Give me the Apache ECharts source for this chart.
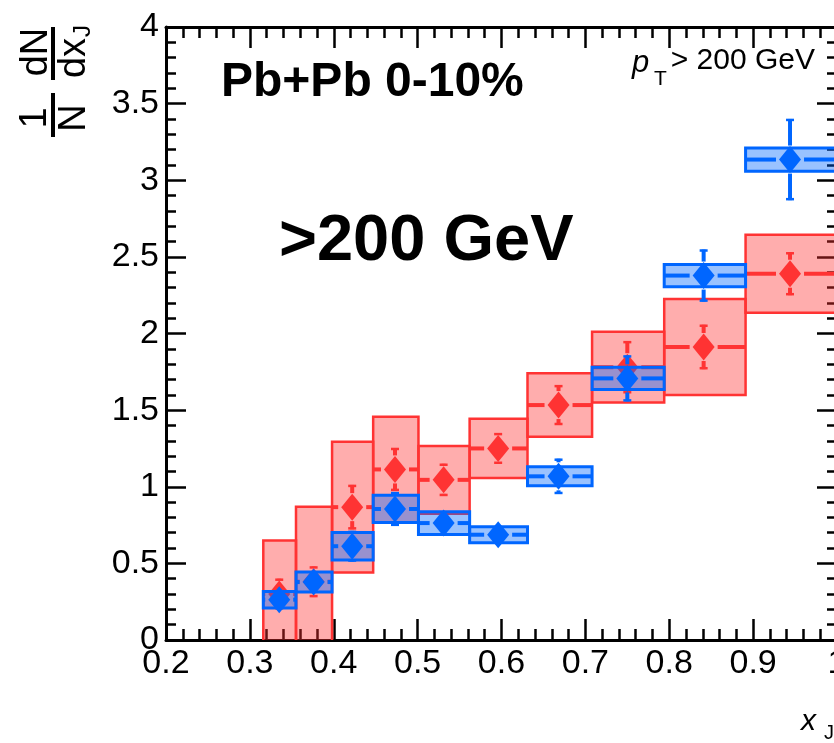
<!DOCTYPE html>
<html><head><meta charset="utf-8">
<script src="https://cdn.jsdelivr.net/npm/echarts@6/dist/echarts.min.js"></script>
<style>html,body{margin:0;padding:0;background:#fff}#c{width:834px;height:743px}</style>
</head><body><div id="c"></div>
<script>
// x_J bins (log-spaced)
const binLow    = [0.316, 0.355, 0.398, 0.447, 0.501, 0.562, 0.631, 0.708, 0.794, 0.891];
const binHigh   = [0.355, 0.398, 0.447, 0.501, 0.562, 0.631, 0.708, 0.794, 0.891, 1.000];
const binCenter = [0.335, 0.376, 0.422, 0.473, 0.531, 0.596, 0.668, 0.750, 0.841, 0.944];
// red series
const redValues = [0.30, 0.38, 0.867, 1.113, 1.045, 1.250, 1.533, 1.780, 1.912, 2.390];
const redStat   = [0.10, 0.10, 0.145, 0.140, 0.105, 0.100, 0.130, 0.170, 0.145, 0.140];
const redSys    = [0.35, 0.49, 0.426, 0.344, 0.221, 0.193, 0.207, 0.231, 0.313, 0.255];
// blue series
const blueValues = [0.263, 0.378, 0.612, 0.855, 0.763, 0.687, 1.068, 1.707, 2.378, 3.135];
const blueStat   = [0.070, 0.070, 0.100, 0.110, 0.080, 0.060, 0.115, 0.150, 0.170, 0.265];
const blueSys    = [0.054, 0.065, 0.090, 0.089, 0.074, 0.052, 0.062, 0.072, 0.073, 0.076];
// tick labels
const xTickLabels = ['0.2','0.3','0.4','0.5','0.6','0.7','0.8','0.9','1'];
const yTickLabels = ['0','0.5','1','1.5','2','2.5','3','3.5','4'];

const RED = '#ff3333', RED_FILL = 'rgba(255,51,51,0.4)';
const BLUE = '#0066ff', BLUE_FILL = 'rgba(0,102,255,0.4)';

function buildData(vals, stat, sys) {
  return vals.map((v, i) => [binLow[i], binHigh[i], binCenter[i], v, stat[i], sys[i]]);
}

function makeRender(color, fill, boxW) {
  return function (params, api) {
    const lo = api.value(0), hi = api.value(1), xc = api.value(2);
    const v = api.value(3), st = api.value(4), sy = api.value(5);
    const p1 = api.coord([lo, v + sy]);
    const p2 = api.coord([hi, v - sy]);
    const c = api.coord([xc, v]);
    const gap = 14, lw = 4;
    const ch = [];
    ch.push({type: 'rect', shape: {x: p1[0], y: p1[1], width: p2[0] - p1[0], height: p2[1] - p1[1]},
      style: {fill: fill, stroke: color, lineWidth: boxW}});
    if (c[0] - gap > p1[0]) ch.push({type: 'line', shape: {x1: p1[0], y1: c[1], x2: c[0] - gap, y2: c[1]}, style: {stroke: color, lineWidth: lw}});
    if (c[0] + gap < p2[0]) ch.push({type: 'line', shape: {x1: c[0] + gap, y1: c[1], x2: p2[0], y2: c[1]}, style: {stroke: color, lineWidth: lw}});
    const top = api.coord([xc, v + st])[1];
    const bot = api.coord([xc, v - st])[1];
    if (top < c[1] - gap) {
      ch.push({type: 'line', shape: {x1: c[0], y1: top, x2: c[0], y2: c[1] - gap}, style: {stroke: color, lineWidth: lw}});
      ch.push({type: 'line', shape: {x1: c[0] - 4, y1: top + 1, x2: c[0] + 4, y2: top + 1}, style: {stroke: color, lineWidth: 2.5}});
    }
    if (bot > c[1] + gap) {
      ch.push({type: 'line', shape: {x1: c[0], y1: c[1] + gap, x2: c[0], y2: bot}, style: {stroke: color, lineWidth: lw}});
      ch.push({type: 'line', shape: {x1: c[0] - 4, y1: bot - 1, x2: c[0] + 4, y2: bot - 1}, style: {stroke: color, lineWidth: 2.5}});
    }
    ch.push({type: 'polygon', shape: {points: [[c[0], c[1] - 13.5], [c[0] + 11, c[1]], [c[0], c[1] + 13.5], [c[0] - 11, c[1]]]},
      style: {fill: color}});
    return {type: 'group', children: ch};
  };
}

const FONT = '"Liberation Sans", Arial, Helvetica, sans-serif';
const tickStyle = {color: '#000', width: 2.5};

function xAxisCfg(pos, showLabel) {
  return {
    type: 'value', position: pos, min: 0.2, max: 1, interval: 0.1,
    axisLine: {show: true, onZero: false, lineStyle: {color: '#000', width: 3}},
    axisTick: {show: true, inside: true, length: 21, lineStyle: tickStyle},
    minorTick: {show: true, splitNumber: 5, length: 11, lineStyle: tickStyle},
    splitLine: {show: false}, minorSplitLine: {show: false},
    axisLabel: {show: showLabel, margin: 7, color: '#000', fontSize: 34, fontFamily: FONT,
      showMinLabel: true, showMaxLabel: true, hideOverlap: false,
      formatter: v => xTickLabels[Math.round((v - 0.2) / 0.1)]}
  };
}
function yAxisCfg(pos, showLabel) {
  return {
    type: 'value', position: pos, min: 0, max: 4, interval: 0.5,
    axisLine: {show: true, onZero: false, lineStyle: {color: '#000', width: 3}},
    axisTick: {show: true, inside: true, length: 20, lineStyle: tickStyle},
    minorTick: {show: true, splitNumber: 5, length: 10, lineStyle: tickStyle},
    splitLine: {show: false}, minorSplitLine: {show: false},
    axisLabel: {show: showLabel, margin: 7, color: '#000', fontSize: 34, fontFamily: FONT,
      showMinLabel: true, showMaxLabel: true, hideOverlap: false,
      formatter: v => yTickLabels[Math.round(v / 0.5)]}
  };
}

function txt(text, x, y, font, align, valign, rot) {
  return {type: 'text', x: x, y: y, rotation: rot || 0, z: 100,
    style: {text: text, font: font, fill: '#000', textAlign: align, textVerticalAlign: valign, align: align, verticalAlign: valign}};
}
const R = Math.PI / 2;

const chart = echarts.init(document.getElementById('c'), null, {renderer: 'canvas'});
chart.setOption({
  animation: false,
  backgroundColor: '#fff',
  grid: {left: 166, top: 27, width: 671, height: 613, containLabel: false, outerBoundsMode: 'none'},
  xAxis: [xAxisCfg('bottom', true), xAxisCfg('top', false)],
  yAxis: [yAxisCfg('left', true), yAxisCfg('right', false)],
  series: [
    {type: 'custom', xAxisIndex: 0, yAxisIndex: 0, clip: true, renderItem: makeRender(RED, RED_FILL, 2.5),
      data: buildData(redValues, redStat, redSys), z: 2},
    {type: 'custom', xAxisIndex: 0, yAxisIndex: 0, clip: true, renderItem: makeRender(BLUE, BLUE_FILL, 3),
      data: buildData(blueValues, blueStat, blueSys), z: 3}
  ],
  graphic: [
    txt('Pb+Pb 0-10%', 221, 83, 'bold 48px ' + FONT, 'left', 'middle'),
    txt('>200 GeV', 279, 242, 'bold 65px ' + FONT, 'left', 'middle'),
    txt('p', 632, 63, 'italic 31px ' + FONT, 'left', 'middle'),
    txt('T', 654, 79, '21px ' + FONT, 'left', 'middle'),
    txt('> 200 GeV', 815, 61, '30px ' + FONT, 'right', 'middle'),
    // y-axis title: (1/N) dN/dx_J rotated
    txt('dN', 37, 52, '38px ' + FONT, 'center', 'middle', R),
    {type: 'rect', shape: {x: 51, y: 27, width: 4, height: 53}, style: {fill: '#000'}, z: 100},
    txt('dx', 75, 58, '38px ' + FONT, 'center', 'middle', R),
    txt('J', 83, 31, '24px ' + FONT, 'center', 'middle', R),
    txt('1', 36, 118, '38px ' + FONT, 'center', 'middle', R),
    {type: 'rect', shape: {x: 51, y: 93, width: 4, height: 44}, style: {fill: '#000'}, z: 100},
    txt('N', 75, 118, '38px ' + FONT, 'center', 'middle', R),
    // x-axis title
    txt('x', 801, 722, 'italic 30px ' + FONT, 'left', 'middle'),
    txt('J', 824, 733, '20px ' + FONT, 'left', 'middle')
  ]
});
</script>
</body></html>
